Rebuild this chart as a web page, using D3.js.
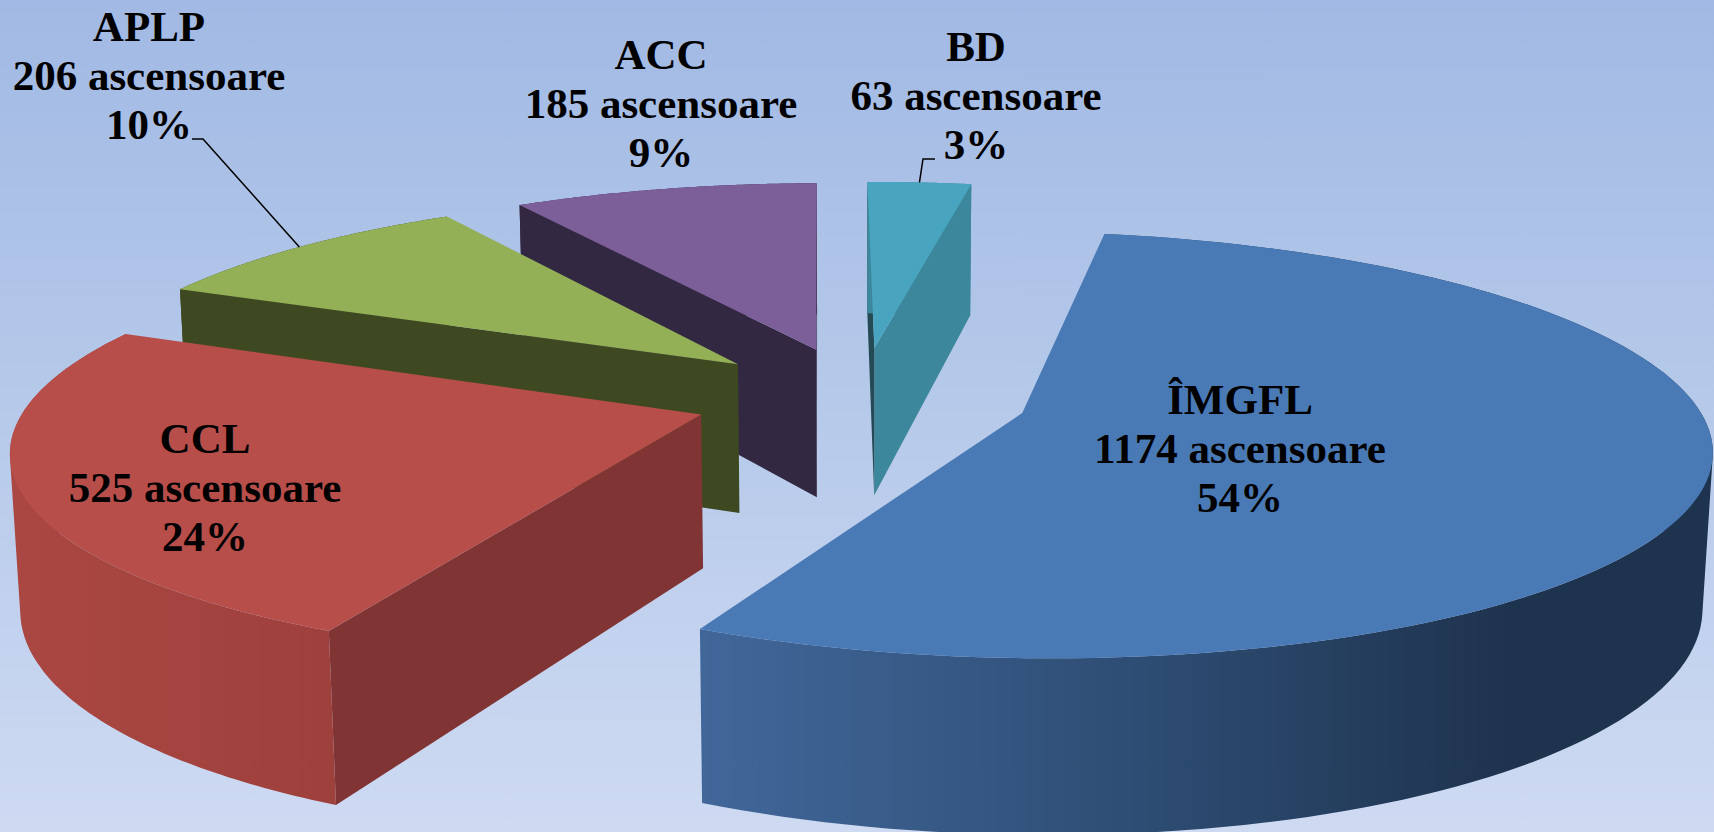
<!DOCTYPE html>
<html>
<head>
<meta charset="utf-8">
<script src="https://cdn.jsdelivr.net/npm/d3@7"></script>
<style>
  html, body { margin: 0; padding: 0; overflow: hidden; background: #cdd9f1; }
  svg { display: block; }
  text { font-family: "Liberation Serif", serif; font-weight: bold; fill: #000; text-anchor: middle; }
</style>
</head>
<body>
<div id="chart"></div>
<script>
// values
const categories = ['ÎMGFL', 'CCL', 'APLP', 'ACC', 'BD'];
const lifts = [1174, 525, 206, 185, 63];
const percents = ['54%', '24%', '10%', '9%', '3%'];

const topColors = ['#4a7ab5', '#b74e4a', '#93b057', '#7c5f99', '#49a5bf'];
const startCutColors = ['#1e334e', '#803534', '#3f4921', '#332841', '#244a55'];
const endCutColors = ['#1e334e', '#803534', '#3f4921', '#332841', '#3c879c'];
const rimStops = [
    [['#41679a', 0], ['#2d4c72', 0.45], ['#1e334e', 0.8], ['#1e334e', 1]],
    [['#ab4742', 0], ['#9e403c', 1]],
    [['#3f4921', 0], ['#3f4921', 1]],
    [['#332841', 0], ['#332841', 1]],
    [['#3c879c', 0], ['#3c879c', 1]]
];

// label centre x and first baseline
const labelX = [1240, 205, 149, 661, 976];
const labelY = [414, 453, 41, 69, 61];
const lineHeight = 49;

const width = 1714, height = 832;
const firstAngle = 10 * Math.PI / 180;
const explode = 0.25;
const perspective = 0.1475;
const thickness = 152;
const nadir = 12900;
const centerX = 861, centerY = 397;

const x = d3.scaleLinear().domain([-1, 1]).range([centerX - 671, centerX + 671]);
const y = d3.scaleLinear().domain([-1, 1]).range([centerY - 203.9, centerY + 203.9]);

const project = (u, v, down) => {
    const s = 1 / (1 - perspective * v);
    let px = x(u * s), py = y(v * s);
    if (down) {
        const depth = thickness * Math.pow(s, 0.87);
        px += (centerX - px) * depth / nadir;
        py += depth;
    }
    return [px, py];
};

const slices = d3.pie().sort(null)
    .startAngle(firstAngle).endAngle(firstAngle + 2 * Math.PI)(lifts)
    .map(d => {
        const mid = (d.startAngle + d.endAngle) / 2;
        return {
            ...d,
            mid,
            ou: explode * Math.sin(mid),
            ov: -explode * Math.cos(mid)
        };
    });

const rimPoint = (d, a, down) => project(d.ou + Math.sin(a), d.ov - Math.cos(a), down);
const apex = (d, down) => project(d.ou, d.ov, down);
const arcAngles = d => d3.range(0, 121).map(i => d.startAngle + (d.endAngle - d.startAngle) * i / 120);

const line = d3.line().curve(d3.curveLinear);
const closed = pts => line(pts) + 'Z';

const svg = d3.select('#chart').append('svg')
    .attr('width', width)
    .attr('height', height);

const defs = svg.append('defs');
const bg = defs.append('linearGradient')
    .attr('id', 'bg')
    .attr('x1', 0).attr('y1', 0).attr('x2', 0).attr('y2', 1);
bg.append('stop').attr('offset', 0).attr('stop-color', '#a1b9e4');
bg.append('stop').attr('offset', 0.45).attr('stop-color', '#b4c8e9');
bg.append('stop').attr('offset', 1).attr('stop-color', '#cedaf2');

svg.append('rect')
    .attr('width', width)
    .attr('height', height)
    .attr('fill', 'url(#bg)');

// back to front
const order = d3.range(slices.length).sort((a, b) => d3.ascending(slices[a].ov, slices[b].ov));

order.forEach(i => {
    const d = slices[i];
    const g = svg.append('g').attr('class', 'slice');

    const wall = a => [apex(d, false), rimPoint(d, a, false), rimPoint(d, a, true), apex(d, true)];
    const startWall = wall(d.startAngle), endWall = wall(d.endAngle);

    // only the cut faces that look at the viewer
    if (d3.polygonArea(endWall) < 0) {
        g.append('path').attr('d', closed(endWall)).attr('fill', endCutColors[i]);
    }
    if (d3.polygonArea(startWall) > 0) {
        g.append('path').attr('d', closed(startWall)).attr('fill', startCutColors[i]);
    }

    const angles = arcAngles(d);
    const topArc = angles.map(a => rimPoint(d, a, false));
    const lowArc = angles.map(a => rimPoint(d, a, true));
    const xs = topArc.map(p => p[0]);

    const gradId = 'rim' + i;
    const grad = defs.append('linearGradient')
        .attr('id', gradId)
        .attr('gradientUnits', 'userSpaceOnUse')
        .attr('x1', d3.min(xs)).attr('y1', 0)
        .attr('x2', d3.max(xs)).attr('y2', 0);
    rimStops[i].forEach(s => grad.append('stop').attr('offset', s[1]).attr('stop-color', s[0]));

    // rim as quads wound the same way, so the fold at the sides leaves no hole
    const rimPath = d3.range(angles.length - 1).map(k => {
        const quad = [topArc[k], topArc[k + 1], lowArc[k + 1], lowArc[k]];
        return closed(d3.polygonArea(quad) < 0 ? quad.reverse() : quad);
    }).join('');

    g.append('path')
        .attr('d', rimPath)
        .attr('fill', `url(#${gradId})`);

    g.append('path')
        .attr('d', closed([apex(d, false)].concat(topArc)))
        .attr('fill', topColors[i]);
});

// leader lines from the two outer labels to their slices
const leaders = [
    { index: 2, from: [192, 139], elbow: [203, 139] },
    { index: 4, from: [935, 159], elbow: [923, 159] }
];
leaders.forEach(l => {
    const d = slices[l.index];
    svg.append('path')
        .attr('d', line([l.from, l.elbow, rimPoint(d, d.mid, false)]))
        .attr('fill', 'none')
        .attr('stroke', '#000')
        .attr('stroke-width', 1.5);
});

categories.forEach((name, i) => {
    const label = svg.append('text')
        .attr('font-size', 43)
        .attr('x', labelX[i])
        .attr('y', labelY[i]);
    [name, `${lifts[i]} ascensoare`, percents[i]].forEach((t, j) => {
        label.append('tspan')
            .attr('x', labelX[i])
            .attr('dy', j === 0 ? 0 : lineHeight)
            .text(t);
    });
});
</script>
</body>
</html>
